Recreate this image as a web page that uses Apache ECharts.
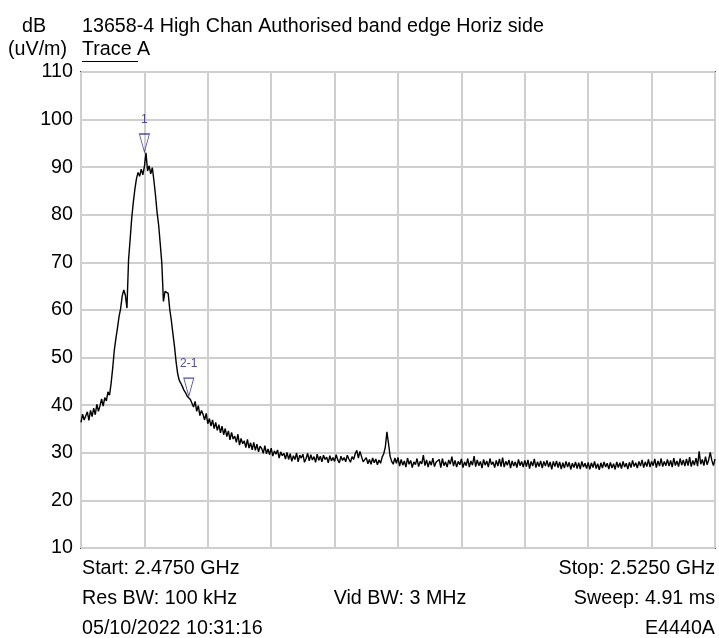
<!DOCTYPE html>
<html>
<head>
<meta charset="utf-8">
<script src="https://cdn.jsdelivr.net/npm/echarts@6/dist/echarts.min.js"></script>
<style>
  html, body { margin: 0; padding: 0; background: #fff; }
  #chart { width: 719px; height: 638px; }
</style>
</head>
<body>
<div id="chart"></div>
<script>
// sweep settings (MHz)
const startMHz = 2475
const stopMHz = 2525
const stepMHz = 0.125

// trace A levels dB(uV/m), one per sweep point
const traceA = [
  36.4, 38.1, 36.9, 37.3, 38.6, 36.8, 38.9, 37.6, 39.4, 38.0,
  40.2, 38.7, 39.9, 41.3, 39.8, 41.6, 40.9, 42.8, 42.1, 44.6,
  47.8, 51.5, 54.0, 56.2, 58.6, 60.3, 62.9, 64.2, 63.1, 60.4,
  70.5, 74.8, 79.3, 82.6, 85.4, 87.6, 88.9, 88.1, 89.6, 88.4,
  90.1, 93.0, 89.2, 90.3, 88.6, 89.9, 87.2, 84.1, 80.5, 77.8,
  73.9, 69.8, 61.8, 63.9, 64.2, 63.5, 60.1, 57.8, 55.0, 52.3,
  49.1, 46.6, 45.2, 44.6, 43.9, 43.1, 42.6, 41.9, 42.3, 41.2,
  41.3, 39.6, 40.8, 38.7, 39.9, 37.8, 38.9, 38.1, 36.9, 38.3,
  36.1, 37.2, 35.6, 36.9, 35.1, 36.4, 34.7, 35.9, 34.2, 35.6,
  33.8, 35.1, 33.4, 34.6, 32.7, 34.3, 32.9, 33.5, 32.2, 33.9,
  31.6, 33.0, 31.9, 32.5, 31.1, 32.8, 31.0, 32.1, 30.6, 32.2,
  30.5, 31.8, 30.2, 31.4, 30.9, 29.9, 31.5, 29.8, 30.8, 29.6,
  31.0, 29.3, 30.4, 29.7, 30.6, 28.9, 30.2, 29.4, 29.9, 28.7,
  30.1, 28.6,
  29.8, 28.2, 29.4, 28.6, 30.0, 28.1, 29.5, 28.9, 29.7, 28.0,
  28.8, 29.9, 28.3, 29.6, 28.5, 29.2, 28.0, 29.7, 28.4, 29.3,
  28.1, 29.5, 28.6, 29.1, 27.9, 29.4, 28.3, 29.0, 28.2, 29.6,
  28.5, 27.9, 29.3, 28.4, 29.0, 28.1, 29.5, 28.7, 28.0, 29.2,
  28.6, 29.8, 30.5, 28.9, 30.3, 29.2, 28.1, 27.8, 29.0, 27.7,
  28.6, 27.6, 28.9, 27.9, 28.7, 27.5, 28.5, 27.8, 29.1, 29.8,
  31.2, 34.4, 32.0, 29.3, 28.2, 27.6, 28.9, 27.8, 29.0,
  27.2, 28.6, 27.4, 28.3, 27.0, 28.9, 27.6, 28.4, 26.9, 28.1,
  27.5, 28.8, 27.1, 28.2, 27.7, 29.5, 27.3, 28.5, 27.0, 28.3,
  27.4, 28.9, 27.1, 28.0, 27.8, 28.6, 26.9, 28.8, 27.3, 28.1,
  27.0, 28.5, 27.6, 29.2, 27.2, 28.4, 27.0, 28.2, 27.5, 28.7,
  26.9, 28.1, 27.3, 28.8, 27.0, 28.3, 27.4, 29.3, 27.1, 28.5,
  27.3, 28.2, 26.8, 28.6, 27.4, 28.3, 27.0, 28.8, 27.5, 28.1,
  26.9, 28.4, 27.2, 28.7, 27.1, 29.0, 27.0, 28.2, 27.4, 28.5,
  26.8, 28.3, 27.2, 28.1, 26.9, 28.6, 27.3, 28.2, 27.0, 28.4,
  27.1, 28.5, 26.7, 28.2, 27.2, 28.7, 26.9, 28.1, 27.1, 28.3,
  26.8, 28.2, 27.2, 28.4, 27.0, 28.1, 26.5, 28.2, 27.1, 28.3,
  26.9, 28.1, 26.6, 27.9, 26.8, 28.2, 27.0, 28.0, 26.5, 27.8,
  26.9, 28.1, 26.7, 27.9, 26.6, 28.2, 27.0, 27.8, 26.7, 28.0,
  26.5, 27.9, 26.9, 28.2, 26.7, 27.7, 26.4, 27.9, 26.8, 28.1,
  27.0, 27.8, 26.6, 28.0, 26.8, 27.7, 26.5, 28.1, 26.9, 27.9,
  26.7, 28.2, 27.0, 27.8, 26.6, 28.0, 26.9, 28.4, 27.1, 27.9,
  26.8, 28.2, 27.2, 28.5, 26.9, 28.1, 27.1, 28.6, 27.0, 28.2,
  27.3, 28.7, 26.9, 28.3, 27.2, 28.8, 27.1, 28.2, 27.3, 28.6,
  27.2, 28.4, 27.0, 28.9, 27.3, 28.3, 27.1, 28.8, 27.4, 28.5,
  27.2, 28.7, 27.3, 29.1, 27.1, 28.4, 27.4, 28.9, 27.2, 30.3,
  27.6, 28.6, 27.3, 29.2, 27.5, 28.5, 30.1, 28.4, 27.3, 28.7
]

// markers: [freq MHz, level]
const markerNames = ['1', '2-1']
const markerFreq = [2480.0, 2483.5]
const markerLevel = [93.2, 41.9]

const yTicks = [10, 20, 30, 40, 50, 60, 70, 80, 90, 100, 110]

const font = 'Liberation Sans, Arial, sans-serif'
const fontSize = 19.7
const markerBlue = '#22228f'

let chart = echarts.init(document.getElementById('chart'))

let traceData = traceA.map((v, i) => [startMHz + i * stepMHz, v])
let markerData = markerNames.map((n, i) => ({
    name: n,
    value: [markerFreq[i], markerLevel[i]]
}))

function txt(x, y, s, align) {
    return {
        type: 'text',
        x: x,
        y: y,
        style: {
            text: s,
            fontFamily: font,
            fontSize: fontSize,
            fill: '#000',
            align: align || 'left',
            verticalAlign: 'middle'
        }
    }
}

chart.setOption({
    animation: false,
    backgroundColor: '#fff',
    grid: {
        left: 81,
        right: 4,
        top: 72,
        bottom: 90,
        show: true,
        borderColor: '#4a4a4a',
        borderWidth: 2
    },
    xAxis: {
        type: 'value',
        min: startMHz,
        max: stopMHz,
        interval: 5,
        axisLine: { show: false },
        axisTick: { show: false },
        axisLabel: { show: false },
        splitLine: { show: true, lineStyle: { color: '#cfcfcf', width: 2 } }
    },
    yAxis: {
        type: 'value',
        min: yTicks[0],
        max: yTicks[yTicks.length - 1],
        interval: 10,
        axisLine: { show: false },
        axisTick: { show: false },
        axisLabel: {
            margin: 8,
            color: '#000',
            fontFamily: font,
            fontSize: fontSize
        },
        splitLine: { show: true, lineStyle: { color: '#cfcfcf', width: 2 } }
    },
    series: [
        {
            name: 'Trace A',
            type: 'line',
            data: traceData,
            showSymbol: false,
            sampling: 'none',
            lineStyle: { color: '#000', width: 1.4 },
            z: 3
        },
        {
            name: 'markers',
            type: 'scatter',
            data: markerData,
            symbol: 'path://M0,0 L10,0 L5,18 Z',
            symbolSize: [10, 18],
            symbolOffset: [0, -9],
            itemStyle: {
                color: 'rgba(0,0,0,0)',
                borderColor: markerBlue,
                borderWidth: 1
            },
            label: {
                show: true,
                position: 'top',
                distance: 8,
                formatter: '{b}',
                color: markerBlue,
                fontFamily: font,
                fontSize: 12
            },
            z: 4
        }
    ],
    graphic: [
        txt(22, 27, 'dB'),
        txt(82, 27, '13658-4 High Chan Authorised band edge Horiz side'),
        txt(8, 50, '(uV/m)'),
        txt(82, 50, 'Trace A'),
        {
            type: 'line',
            shape: { x1: 82, y1: 61.5, x2: 138, y2: 61.5 },
            style: { stroke: '#000', lineWidth: 1 }
        },
        txt(82, 569, 'Start: 2.4750 GHz'),
        txt(715, 569, 'Stop: 2.5250 GHz', 'right'),
        txt(82, 599, 'Res BW: 100 kHz'),
        txt(400, 599, 'Vid BW: 3 MHz', 'center'),
        txt(715, 599, 'Sweep: 4.91 ms', 'right'),
        txt(82, 629, '05/10/2022 10:31:16'),
        txt(715, 629, 'E4440A', 'right')
    ]
})
</script>
</body>
</html>
